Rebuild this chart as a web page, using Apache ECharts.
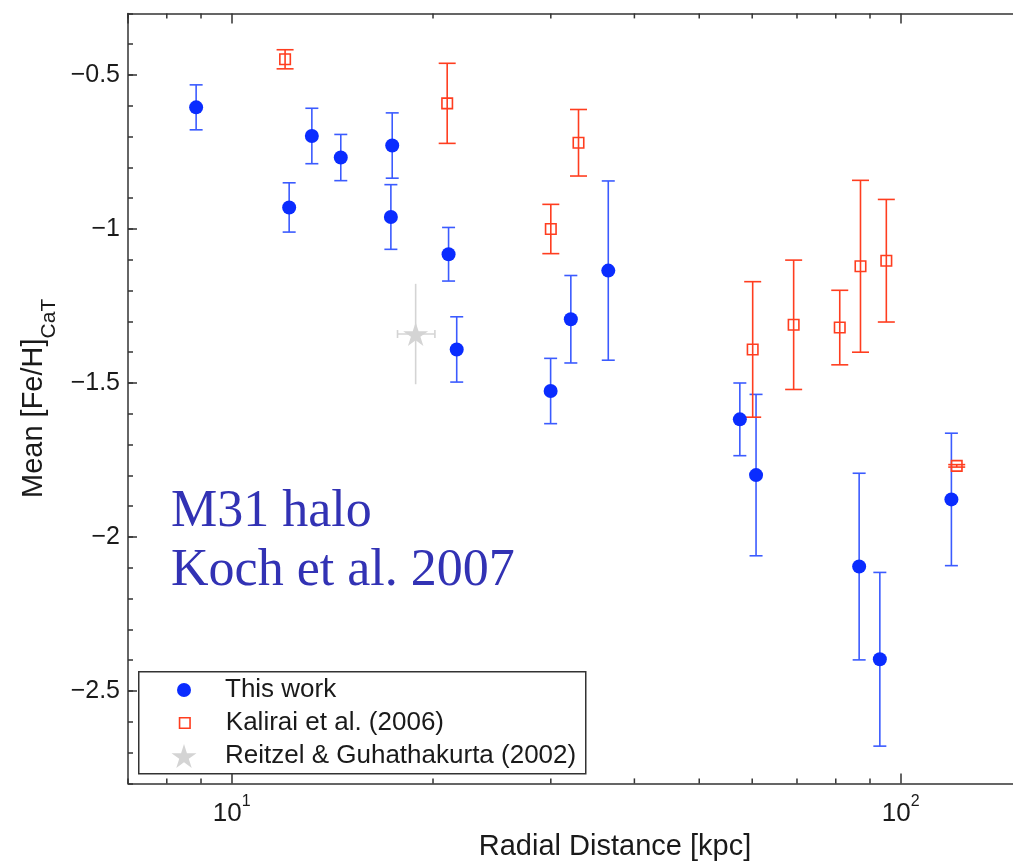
<!DOCTYPE html>
<html><head><meta charset="utf-8">
<script src="https://cdn.jsdelivr.net/npm/echarts@6/dist/echarts.min.js"></script>
<style>html,body{margin:0;padding:0;background:#fff}#c{width:1013px;height:862px}</style>
</head><body><div id="c"></div>
<script>
// ---- data ----
const thisWorkDist = [8.85, 12.19, 13.18, 14.56, 17.38, 17.30, 21.1, 21.7, 29.98, 32.14, 36.56, 57.5, 60.8, 86.7, 93.1, 119.1];
const thisWorkFeH  = [-0.605, -0.930, -0.698, -0.768, -0.729, -0.961, -1.082, -1.391, -1.526, -1.293, -1.135, -1.618, -1.799, -2.096, -2.397, -1.878];
const thisWorkErr  = [0.073, 0.080, 0.090, 0.075, 0.106, 0.105, 0.087, 0.106, 0.106, 0.142, 0.291, 0.118, 0.262, 0.303, 0.282, 0.215];

const kalDist = [12.02, 21.0, 30.0, 33.0, 60.1, 69.2, 81.1, 87.1, 95.2, 121.3];
const kalFeH  = [-0.449, -0.592, -1.000, -0.720, -1.391, -1.311, -1.320, -1.121, -1.103, -1.769];
const kalErr  = [0.031, 0.130, 0.080, 0.108, 0.220, 0.210, 0.121, 0.279, 0.199, 0.004];

const reitzelDist = [18.84];
const reitzelFeH  = [-1.341];
const reitzelErr  = [0.163];
const reitzelDistLo = [17.70];
const reitzelDistHi = [20.13];

const seriesNames = ['This work', 'Kalirai et al. (2006)', 'Reitzel & Guhathakurta (2002)'];

const xMin = 7, xMax = 200;
const yMin = -2.8, yMax = -0.3;
const xMajorTicks = [10, 100];
const xTickLabels = [['10', '1'], ['10', '2']];
const xMinorTicks = [7, 8, 9, 20, 30, 40, 50, 60, 70, 80, 90];
const yTickValues = [-2.5, -2, -1.5, -1, -0.5];
const yTickLabels = ['\u22122.5', '\u22122', '\u22121.5', '\u22121', '\u22120.5'];
const xTitle = 'Radial Distance [kpc]';
const yTitleMain = 'Mean [Fe/H]';
const yTitleSub = 'CaT';
const noteLines = ['M31 halo', 'Koch et al. 2007'];

// ---- styles ----
const AX = '#333333';
const BLUE = '#0a2cff', BLUE_BAR = '#3b5bff';
const RED = '#ff3d1f';
const GRAY = '#d4d4d4';
const SANS = '"Liberation Sans", Arial, Helvetica, sans-serif';
const SERIF = '"Liberation Serif", "Times New Roman", serif';
const STAR = 'path://M50,0L61.17,34.63L97.55,34.55L68.07,55.87L79.39,90.45L50,69L20.61,90.45L31.93,55.87L2.45,34.55L38.83,34.63Z';

function errBar(capHalf, color, lw) {
  return function (params, api) {
    const x = api.value(0), y = api.value(1), e = api.value(2);
    const p0 = api.coord([x, y + e]), p1 = api.coord([x, y - e]);
    const st = {stroke: color, lineWidth: lw, fill: null};
    return {type: 'group', children: [
      {type: 'line', shape: {x1: p0[0], y1: p0[1], x2: p1[0], y2: p1[1]}, style: st},
      {type: 'line', shape: {x1: p0[0] - capHalf, y1: p0[1], x2: p0[0] + capHalf, y2: p0[1]}, style: st},
      {type: 'line', shape: {x1: p1[0] - capHalf, y1: p1[1], x2: p1[0] + capHalf, y2: p1[1]}, style: st}
    ]};
  };
}

const chart = echarts.init(document.getElementById('c'), null, {renderer: 'canvas'});

const legendBase = (name, size, rowCenter, itemStyle) => ({
  data: [name], orient: 'vertical', selectedMode: false,
  left: 184 - size / 2, top: rowCenter - 13, padding: 0, itemGap: 0,
  itemWidth: size, itemHeight: size, itemStyle: itemStyle,
  textStyle: {fontFamily: SANS, fontSize: 26, color: '#1a1a1a', padding: [0, 0, 0, 36 - size / 2]}
});

const option = {
  animation: false,
  backgroundColor: '#fff',
  grid: {left: 128, top: 13.4, width: 974, height: 770, containLabel: false, outerBoundsMode: 'none'},
  legend: [
    legendBase(seriesNames[0], 14, 690, {color: BLUE, borderWidth: 0, opacity: 1}),
    legendBase(seriesNames[1], 10.5, 723, {color: '#fff', borderColor: RED, borderWidth: 1.6, opacity: 1}),
    legendBase(seriesNames[2], 25, 756, {color: GRAY, borderWidth: 0, opacity: 1})
  ],
  xAxis: [{
    type: 'log', logBase: 10, min: xMin, max: xMax, position: 'bottom',
    name: xTitle, nameLocation: 'middle', nameGap: 46,
    nameTextStyle: {fontFamily: SANS, fontSize: 29, color: '#1a1a1a'},
    axisLine: {show: true, lineStyle: {color: AX, width: 1.5}},
    axisTick: {show: true, inside: true, length: 10, lineStyle: {color: AX, width: 1.5}},
    splitLine: {show: false}, minorTick: {show: false},
    axisLabel: {
      show: true, margin: 10.3, showMinLabel: false, showMaxLabel: false,
      formatter: function (v) {
        const i = xMajorTicks.findIndex(t => Math.abs(t - v) < 1e-6 * t);
        return i < 0 ? '' : '{b|' + xTickLabels[i][0] + '}{p|' + xTickLabels[i][1] + '}';
      },
      rich: {
        b: {fontFamily: SANS, fontSize: 26, lineHeight: 26, color: '#1a1a1a', verticalAlign: 'top', padding: [7.5, 0, 0, 0]},
        p: {fontFamily: SANS, fontSize: 16, lineHeight: 16, color: '#1a1a1a', verticalAlign: 'top'}
      }
    }
  }, {
    type: 'log', logBase: 10, min: xMin, max: xMax, position: 'top',
    axisLine: {show: true, lineStyle: {color: AX, width: 1.5}},
    axisTick: {show: true, inside: true, length: 10, lineStyle: {color: AX, width: 1.5}},
    axisLabel: {show: false}, splitLine: {show: false}
  }],
  yAxis: [{
    type: 'value', min: yMin, max: yMax, interval: 0.1,
    name: '{m|' + yTitleMain + '}{s|' + yTitleSub + '}', nameLocation: 'middle', nameGap: 74,
    nameTextStyle: {
      fontFamily: SANS, color: '#1a1a1a', padding: [0, 0, 0, 0],
      rich: {
        m: {fontFamily: SANS, fontSize: 29, lineHeight: 29, color: '#1a1a1a', verticalAlign: 'top'},
        s: {fontFamily: SANS, fontSize: 21, lineHeight: 21, color: '#1a1a1a', verticalAlign: 'top', padding: [19, 0, 0, 0]}
      }
    },
    axisLine: {show: true, lineStyle: {color: AX, width: 1.5}},
    axisTick: {show: true, inside: true, length: 5, lineStyle: {color: AX, width: 1.5}},
    splitLine: {show: false},
    axisLabel: {
      margin: 8, fontFamily: SANS, fontSize: 25, color: '#1a1a1a',
      formatter: function (v) {
        const i = yTickValues.findIndex(t => Math.abs(t - v) < 1e-6);
        return i < 0 ? '' : yTickLabels[i];
      }
    }
  }],
  series: [
    // minor log ticks on bottom and top axes
    {
      type: 'custom', silent: true, z: 6, clip: false,
      data: xMinorTicks.map(v => [v, yMin]), encode: {x: 0, y: 1},
      renderItem: function (params, api) {
        const cs = params.coordSys;
        const px = api.coord([api.value(0), yMin])[0];
        const st = {stroke: AX, lineWidth: 1.5};
        return {type: 'group', children: [
          {type: 'line', shape: {x1: px, y1: cs.y + cs.height, x2: px, y2: cs.y + cs.height - 5}, style: st},
          {type: 'line', shape: {x1: px, y1: cs.y, x2: px, y2: cs.y + 5}, style: st}
        ]};
      }
    },
    // longer major ticks on the y axis
    {
      type: 'custom', silent: true, z: 6, clip: false,
      data: yTickValues.map(v => [xMin, v]), encode: {x: 0, y: 1},
      renderItem: function (params, api) {
        const cs = params.coordSys;
        const py = api.coord([xMin, api.value(1)])[1];
        return {type: 'line', shape: {x1: cs.x, y1: py, x2: cs.x + 9, y2: py}, style: {stroke: AX, lineWidth: 1.5}};
      }
    },
    // error bars
    {
      type: 'custom', silent: true, z: 2,
      data: thisWorkDist.map((d, i) => [d, thisWorkFeH[i], thisWorkErr[i]]), encode: {x: 0, y: 1},
      renderItem: errBar(6.5, BLUE_BAR, 1.6)
    },
    {
      type: 'custom', silent: true, z: 2,
      data: kalDist.map((d, i) => [d, kalFeH[i], kalErr[i]]), encode: {x: 0, y: 1},
      renderItem: errBar(8.5, RED, 1.6)
    },
    {
      type: 'custom', silent: true, z: 2,
      data: reitzelDist.map((d, i) => [d, reitzelFeH[i], reitzelErr[i], reitzelDistLo[i], reitzelDistHi[i]]), encode: {x: 0, y: 1},
      renderItem: function (params, api) {
        const x = api.value(0), y = api.value(1), e = api.value(2), lo = api.value(3), hi = api.value(4);
        const p0 = api.coord([x, y + e]), p1 = api.coord([x, y - e]);
        const q0 = api.coord([lo, y]), q1 = api.coord([hi, y]);
        const st = {stroke: GRAY, lineWidth: 1.6};
        return {type: 'group', children: [
          {type: 'line', shape: {x1: p0[0], y1: p0[1], x2: p1[0], y2: p1[1]}, style: st},
          {type: 'line', shape: {x1: q0[0], y1: q0[1], x2: q1[0], y2: q1[1]}, style: st},
          {type: 'line', shape: {x1: q0[0], y1: q0[1] - 4, x2: q0[0], y2: q0[1] + 4}, style: st},
          {type: 'line', shape: {x1: q1[0], y1: q1[1] - 4, x2: q1[0], y2: q1[1] + 4}, style: st}
        ]};
      }
    },
    // markers
    {
      name: seriesNames[0], type: 'scatter', z: 4, symbol: 'circle', symbolSize: 14,
      itemStyle: {color: BLUE, opacity: 1}, emphasis: {disabled: true},
      data: thisWorkDist.map((d, i) => [d, thisWorkFeH[i]])
    },
    {
      name: seriesNames[1], type: 'scatter', z: 4, symbol: 'rect', symbolSize: 10.5,
      itemStyle: {color: 'rgba(0,0,0,0)', borderColor: RED, borderWidth: 1.6, opacity: 1}, emphasis: {disabled: true},
      data: kalDist.map((d, i) => [d, kalFeH[i]])
    },
    {
      name: seriesNames[2], type: 'scatter', z: 4, symbol: STAR, symbolSize: 25, symbolKeepAspect: true,
      itemStyle: {color: GRAY, opacity: 1}, emphasis: {disabled: true},
      data: reitzelDist.map((d, i) => [d, reitzelFeH[i]])
    }
  ],
  graphic: [
    {type: 'rect', left: 138, top: 671, z: 1, silent: true,
     shape: {width: 447, height: 102}, style: {fill: '#fff', stroke: AX, lineWidth: 1.5}},
    {type: 'text', left: 171, top: 529.3 - 43, silent: true,
     style: {text: noteLines[0], font: '52px ' + SERIF, fill: '#3232b4'}},
    {type: 'text', left: 171, top: 588.3 - 43, silent: true,
     style: {text: noteLines[1], font: '52px ' + SERIF, fill: '#3232b4'}}
  ]
};
chart.setOption(option);
</script></body></html>
